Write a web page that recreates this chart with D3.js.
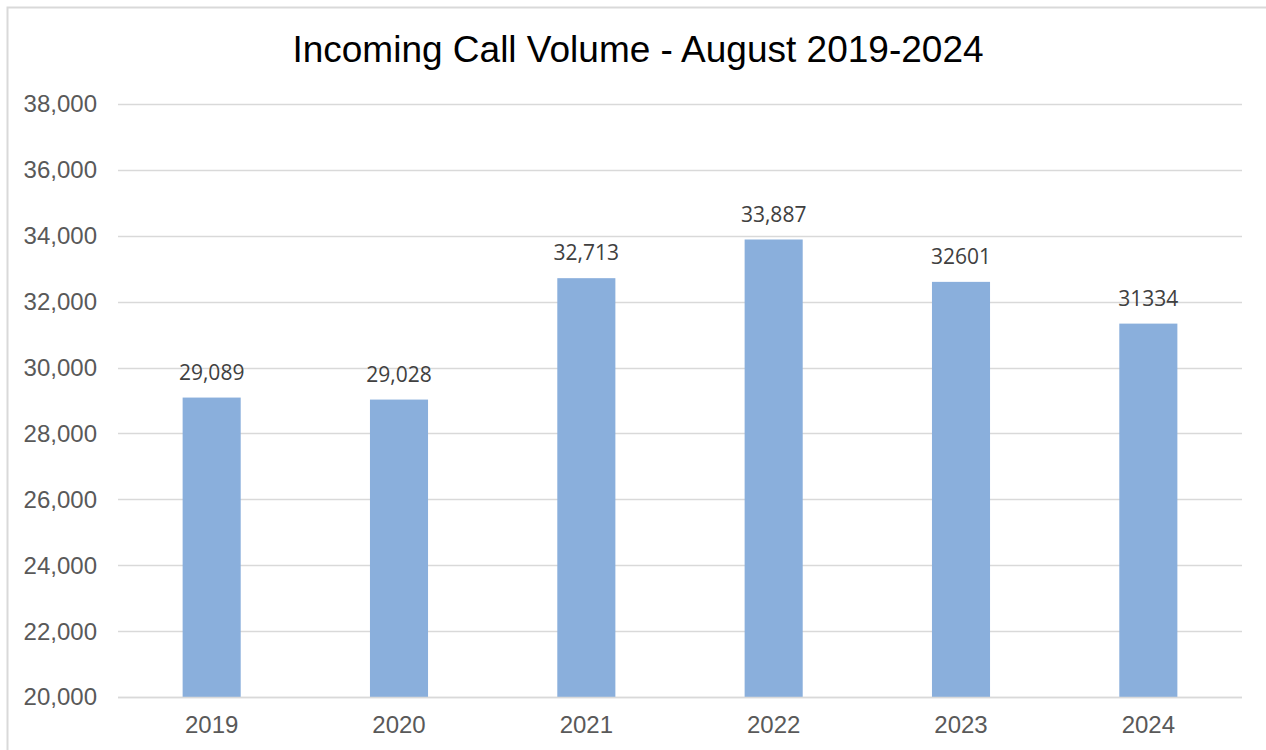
<!DOCTYPE html>
<html lang="en">
<head>
<meta charset="UTF-8">
<title>Incoming Call Volume</title>
<style>
    body { margin: 0; padding: 0; background: white; }
    .tick-label { font: 24px "Liberation Sans", Arial, sans-serif; fill: #595959; }
    .title { font: 37px "Liberation Sans", Arial, sans-serif; fill: #000; }
    .bar-label { font: 21px "Open Sans", "Noto Sans", sans-serif; fill: #404040; }
</style>
</head>
<body>
<script src="https://cdn.jsdelivr.net/npm/d3@7"></script>
<script>
    var years = ['2019', '2020', '2021', '2022', '2023', '2024'];
    var calls = [29089, 29028, 32713, 33887, 32601, 31334];
    var barLabels = ['29,089', '29,028', '32,713', '33,887', '32601', '31334'];
    var yTicks = [20000, 22000, 24000, 26000, 28000, 30000, 32000, 34000, 36000, 38000];

    var W = 1266, H = 750;
    var svg = d3.select('body').append('svg')
        .attr('width', W).attr('height', H);

    // outer chart frame
    svg.append('rect')
        .attr('x', 7.5).attr('y', 7.5)
        .attr('width', W + 10).attr('height', H + 10)
        .attr('fill', 'white').attr('stroke', '#d9d9d9').attr('stroke-width', 2);

    var plotLeft = 118, plotRight = 1242, plotTop = 104, plotBottom = 697;

    var x = d3.scaleBand().domain(years).range([plotLeft, plotRight]).paddingInner(0.69).paddingOuter(0.345);
    var y = d3.scaleLinear().domain([20000, 38000]).range([plotBottom, plotTop]);

    // grid lines
    svg.append('g').selectAll('line')
        .data(yTicks)
        .enter().append('line')
        .attr('x1', plotLeft).attr('x2', plotRight)
        .attr('y1', function(d) { return Math.round(y(d)) + 0.5; })
        .attr('y2', function(d) { return Math.round(y(d)) + 0.5; })
        .attr('stroke', '#d9d9d9').attr('stroke-width', 1.5);

    svg.append('g').selectAll('text')
        .data(yTicks)
        .enter().append('text')
        .attr('class', 'tick-label')
        .attr('x', 97)
        .attr('y', function(d) { return y(d); })
        .attr('dy', '0.35em')
        .attr('text-anchor', 'end')
        .text(d3.format(','));

    // bars
    svg.append('g').selectAll('rect')
        .data(calls)
        .enter().append('rect')
        .attr('x', function(d, i) { return x(years[i]); })
        .attr('width', x.bandwidth())
        .attr('y', function(d) { return y(d); })
        .attr('height', function(d) { return plotBottom - y(d); })
        .attr('fill', '#8aafdc');

    // redraw base line over bars
    svg.append('line')
        .attr('x1', plotLeft).attr('x2', plotRight)
        .attr('y1', plotBottom + 0.5).attr('y2', plotBottom + 0.5)
        .attr('stroke', '#d9d9d9').attr('stroke-width', 1.5);

    svg.append('g').selectAll('text')
        .data(calls)
        .enter().append('text')
        .attr('class', 'bar-label')
        .attr('x', function(d, i) { return x(years[i]) + x.bandwidth() / 2; })
        .attr('y', function(d) { return y(d) - 18; })
        .attr('text-anchor', 'middle')
        .text(function(d, i) { return barLabels[i]; });

    svg.append('g').selectAll('text')
        .data(years)
        .enter().append('text')
        .attr('class', 'tick-label')
        .attr('x', function(d) { return x(d) + x.bandwidth() / 2; })
        .attr('y', 733)
        .attr('text-anchor', 'middle')
        .text(function(d) { return d; });

    svg.append('text')
        .attr('class', 'title')
        .attr('x', 638).attr('y', 62)
        .attr('text-anchor', 'middle')
        .text('Incoming Call Volume - August 2019-2024');
</script>
</body>
</html>
